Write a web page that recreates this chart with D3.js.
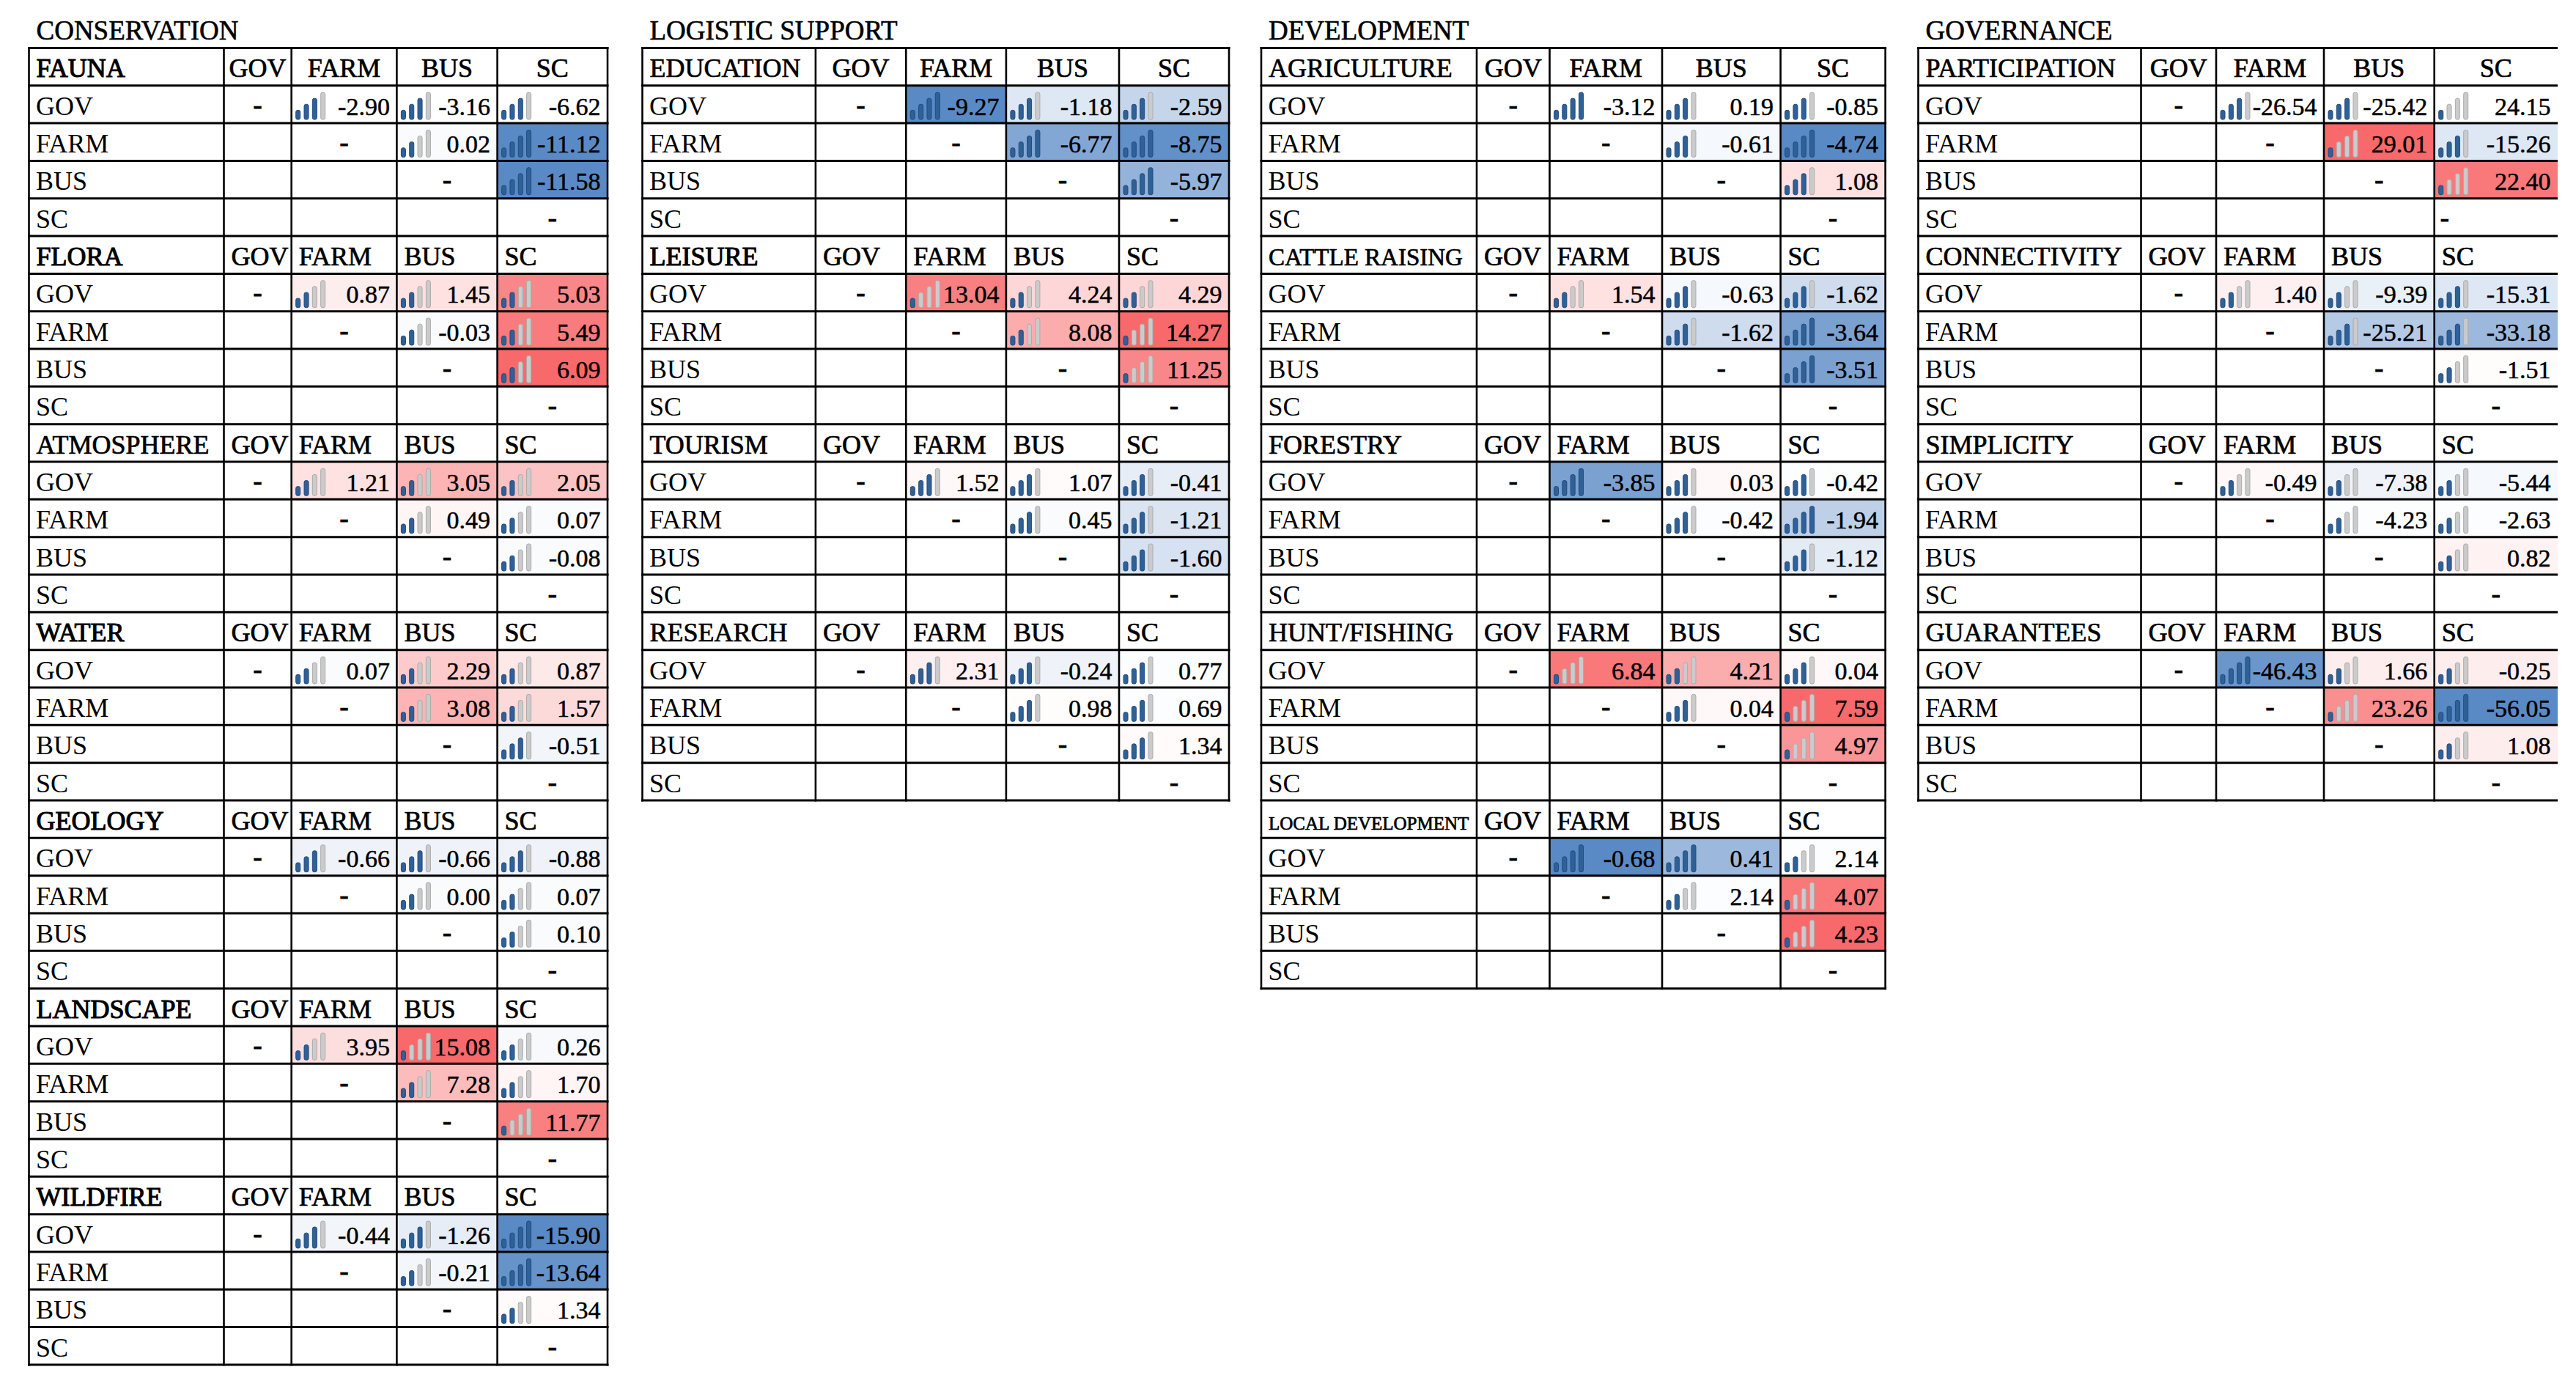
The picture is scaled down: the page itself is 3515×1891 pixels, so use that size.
<!DOCTYPE html>
<html>
<head>
<meta charset="utf-8">
<script src="https://cdn.jsdelivr.net/npm/d3@7"></script>
<style>
  html, body { margin: 0; padding: 0; background: #fff; }
  text { font-family: "Liberation Serif", serif; fill: #000; stroke: #000; }
</style>
</head>
<body>
<div id="chart"></div>
<script>
// ----------- Data ----------------------------------
// each block lists its six cells in this order:
// GOV-FARM, GOV-BUS, GOV-SC, FARM-BUS, FARM-SC, BUS-SC

const actors = ["GOV", "FARM", "BUS", "SC"];
const cellPairs = [[0, 1], [0, 2], [0, 3], [1, 2], [1, 3], [2, 3]];

const conservationBlocks = ["FAUNA", "FLORA", "ATMOSPHERE", "WATER", "GEOLOGY", "LANDSCAPE", "WILDFIRE"];
const conservationValues = [
  [-2.90, -3.16, -6.62, 0.02, -11.12, -11.58],
  [0.87, 1.45, 5.03, -0.03, 5.49, 6.09],
  [1.21, 3.05, 2.05, 0.49, 0.07, -0.08],
  [0.07, 2.29, 0.87, 3.08, 1.57, -0.51],
  [-0.66, -0.66, -0.88, 0.00, 0.07, 0.10],
  [3.95, 15.08, 0.26, 7.28, 1.70, 11.77],
  [-0.44, -1.26, -15.90, -0.21, -13.64, 1.34]
];
const conservationLevels = [
  [3, 3, 3, 2, 4, 4],
  [2, 2, 2, 2, 2, 2],
  [2, 2, 2, 2, 2, 2],
  [2, 2, 2, 2, 2, 3],
  [3, 3, 3, 2, 2, 2],
  [2, 1, 2, 2, 2, 1],
  [3, 3, 4, 2, 4, 2]
];
const conservationShades = [
  [0, 0, 0, -0.03, -1, -1],
  [0.12, 0.2, 0.8, -0.03, 0.88, 1],
  [0.2, 0.5, 0.4, 0.07, -0.03, -0.03],
  [-0.03, 0.35, 0.15, 0.5, 0.25, -0.08],
  [-0.1, -0.1, -0.1, -0.03, -0.03, -0.03],
  [0.22, 1, -0.05, 0.45, 0.07, 0.85],
  [-0.08, -0.15, -1, -0.07, -0.92, 0.03]
];

const logisticBlocks = ["EDUCATION", "LEISURE", "TOURISM", "RESEARCH"];
const logisticValues = [
  [-9.27, -1.18, -2.59, -6.77, -8.75, -5.97],
  [13.04, 4.24, 4.29, 8.08, 14.27, 11.25],
  [1.52, 1.07, -0.41, 0.45, -1.21, -1.60],
  [2.31, -0.24, 0.77, 0.98, 0.69, 1.34]
];
const logisticLevels = [
  [4, 3, 3, 4, 4, 4],
  [1, 2, 2, 2, 1, 1],
  [3, 3, 3, 3, 3, 3],
  [3, 3, 3, 3, 3, 3]
];
const logisticShades = [
  [-1, -0.2, -0.35, -0.75, -0.95, -0.65],
  [0.85, 0.27, 0.27, 0.55, 1, 0.8],
  [0.05, 0.03, -0.15, -0.03, -0.22, -0.25],
  [0.1, -0.1, -0.02, 0.02, -0.02, 0.03]
];

const developmentBlocks = ["AGRICULTURE", "CATTLE RAISING", "FORESTRY", "HUNT/FISHING", "LOCAL DEVELOPMENT"];
const developmentValues = [
  [-3.12, 0.19, -0.85, -0.61, -4.74, 1.08],
  [1.54, -0.63, -1.62, -1.62, -3.64, -3.51],
  [-3.85, 0.03, -0.42, -0.42, -1.94, -1.12],
  [6.84, 4.21, 0.04, 0.04, 7.59, 4.97],
  [-0.68, 0.41, 2.14, 2.14, 4.07, 4.23]
];
const developmentLevels = [
  [4, 3, 3, 3, 4, 3],
  [2, 3, 3, 3, 4, 4],
  [4, 3, 3, 3, 4, 3],
  [1, 2, 3, 3, 1, 1],
  [4, 4, 2, 2, 1, 1]
];
const developmentShades = [
  [0, 0, 0, -0.06, -1, 0.2],
  [0.2, -0.06, -0.3, -0.3, -0.8, -0.8],
  [-0.8, 0.05, -0.02, -0.02, -0.4, -0.17],
  [0.9, 0.55, 0.05, 0.05, 1, 0.7],
  [-1, -0.6, -0.02, -0.02, 0.9, 1]
];

const governanceBlocks = ["PARTICIPATION", "CONNECTIVITY", "SIMPLICITY", "GUARANTEES"];
const governanceValues = [
  [-26.54, -25.42, 24.15, 29.01, -15.26, 22.40],
  [1.40, -9.39, -15.31, -25.21, -33.18, -1.51],
  [-0.49, -7.38, -5.44, -4.23, -2.63, 0.82],
  [-46.43, 1.66, -0.25, 23.26, -56.05, 1.08]
];
const governanceLevels = [
  [3, 3, 1, 1, 3, 1],
  [2, 2, 3, 3, 3, 2],
  [2, 2, 2, 2, 2, 2],
  [4, 2, 2, 1, 4, 2]
];
const governanceShades = [
  [0, 0, 0, 1, -0.2, 0.9],
  [0.1, -0.13, -0.2, -0.45, -0.6, 0.02],
  [0.05, -0.1, -0.06, -0.02, -0.02, 0.09],
  [-0.9, 0.12, 0.12, 0.75, -1, 0.12]
];

// block names printed heavier than the rest
const heavyBlocks = ["FAUNA", "FLORA", "WATER", "GEOLOGY", "LANDSCAPE", "WILDFIRE", "LEISURE"];
// names squeezed to fit the first column
const blockFontSizes = { "CATTLE RAISING": 33, "LOCAL DEVELOPMENT": 25 };

// ----------- Layout ------------

const width = 3515;
const height = 1891;
const top0 = 65.4;
const rowHeight = 51.33;

const tables = [
  { title: "CONSERVATION", edges: [39.5, 305.5, 397.7, 541.4, 678.6, 829], closed: true,
    blocks: conservationBlocks, values: conservationValues, levels: conservationLevels, shades: conservationShades },
  { title: "LOGISTIC SUPPORT", edges: [876.5, 1112.9, 1236.3, 1372.9, 1527, 1677], closed: true,
    blocks: logisticBlocks, values: logisticValues, levels: logisticLevels, shades: logisticShades },
  { title: "DEVELOPMENT", edges: [1721, 2015, 2114.5, 2268, 2429.6, 2572.6], closed: true,
    blocks: developmentBlocks, values: developmentValues, levels: developmentLevels, shades: developmentShades },
  { title: "GOVERNANCE", edges: [2617.5, 2921.5, 3024, 3171, 3321.7, 3490], closed: false,
    blocks: governanceBlocks, values: governanceValues, levels: governanceLevels, shades: governanceShades }
];

const svg = d3.select("#chart")
  .append("svg")
  .attr("width", width)
  .attr("height", height)
  .style("display", "block");

const shade = d3.scaleLinear()
  .domain([-1, 0, 1])
  .range(["#5A8AC6", "#FFFFFF", "#F8696B"]);

// icon: four bars, the first `level` of them blue
const barHeight = d3.scaleLinear().domain([1, 4]).range([12.7, 37]);
const barX = d3.scaleBand().domain([0, 1, 2, 3]).range([0, 41]).paddingInner(0.38).paddingOuter(0);

tables.forEach(table => {
  const rowCount = table.blocks.length * (actors.length + 1);
  const g = svg.append("g");

  const x = d3.scaleLinear().domain(d3.range(6)).range(table.edges);
  const y = d3.scaleLinear().domain([0, rowCount]).range([top0, top0 + rowCount * rowHeight]);

  g.append("text")
    .attr("x", table.edges[0] + 10)
    .attr("y", 53.6)
    .attr("font-size", 37)
    .attr("stroke-width", 0.6)
    .text(table.title);

  table.blocks.forEach((block, b) => {
    const headRow = b * (actors.length + 1);

    // cell fills and bar icons
    const cells = cellPairs.map((pair, i) => ({
      row: headRow + 1 + pair[0],
      col: pair[1] + 1,
      value: table.values[b][i],
      level: table.levels[b][i],
      tint: table.shades[b][i]
    }));

    g.selectAll(null)
      .data(cells)
      .join("rect")
      .attr("x", d => x(d.col))
      .attr("y", d => y(d.row))
      .attr("width", d => x(d.col + 1) - x(d.col))
      .attr("height", d => y(d.row + 1) - y(d.row))
      .attr("fill", d => shade(d.tint));

    cells.forEach(cell => {
      const baseY = y(cell.row + 1) - 5;
      g.selectAll(null)
        .data(d3.range(4))
        .join("rect")
        .attr("x", i => x(cell.col) + 6 + barX(i))
        .attr("y", i => baseY - barHeight(i + 1))
        .attr("width", barX.bandwidth() - 1)
        .attr("height", i => barHeight(i + 1))
        .attr("rx", 2.5)
        .attr("fill", i => i < cell.level ? "#2F6096" : "#CBCBCB")
        .attr("stroke", i => i < cell.level ? "#1F4C80" : "#ABABAB")
        .attr("stroke-width", 1);
    });

    // values
    g.selectAll(null)
      .data(cells)
      .join("text")
      .attr("x", d => x(d.col + 1) - 9.5)
      .attr("y", d => y(d.row) + 40)
      .attr("text-anchor", "end")
      .attr("font-size", 34)
      .attr("stroke-width", 0.5)
      .text(d => d.value.toFixed(2));

    // header row
    g.append("text")
      .attr("x", x(0) + 10)
      .attr("y", y(headRow) + 40)
      .attr("font-size", blockFontSizes[block] || 36)
      .attr("stroke-width", heavyBlocks.includes(block) ? 1.1 : 0.7)
      .text(block);

    g.selectAll(null)
      .data(actors)
      .join("text")
      .attr("x", (d, i) => b === 0 ? (x(i + 1) + x(i + 2)) / 2 : x(i + 1) + 10)
      .attr("y", y(headRow) + 40)
      .attr("text-anchor", b === 0 ? "middle" : "start")
      .attr("font-size", 36)
      .attr("stroke-width", 0.7)
      .text(d => d);

    // row labels and the diagonal dashes
    g.selectAll(null)
      .data(actors)
      .join("text")
      .attr("x", x(0) + 9.5)
      .attr("y", (d, i) => y(headRow + 1 + i) + 40)
      .attr("font-size", 36)
      .attr("stroke-width", 0)
      .text(d => d);

    g.selectAll(null)
      .data(actors)
      .join("text")
      // the SC dash of PARTICIPATION sits left in its cell
      .attr("x", (d, i) => block === "PARTICIPATION" && d === "SC"
        ? x(i + 1) + 8
        : (x(i + 1) + x(i + 2)) / 2)
      .attr("y", (d, i) => y(headRow + 1 + i) + 38)
      .attr("text-anchor", (d, i) => block === "PARTICIPATION" && d === "SC" ? "start" : "middle")
      .attr("font-size", 36)
      .attr("stroke-width", 1)
      .text("-");
  });

  // grid
  g.selectAll(null)
    .data(d3.range(rowCount + 1))
    .join("line")
    .attr("x1", table.edges[0] - 1.5)
    .attr("x2", table.edges[5] + (table.closed ? 1.5 : 0))
    .attr("y1", d => y(d))
    .attr("y2", d => y(d))
    .attr("stroke", "#000")
    .attr("stroke-width", 3);

  g.selectAll(null)
    .data(table.closed ? d3.range(6) : d3.range(5))
    .join("line")
    .attr("x1", d => x(d))
    .attr("x2", d => x(d))
    .attr("y1", y(0) - 1.5)
    .attr("y2", y(rowCount) + 1.5)
    .attr("stroke", "#000")
    .attr("stroke-width", 2.6);
});
</script>
</body>
</html>
